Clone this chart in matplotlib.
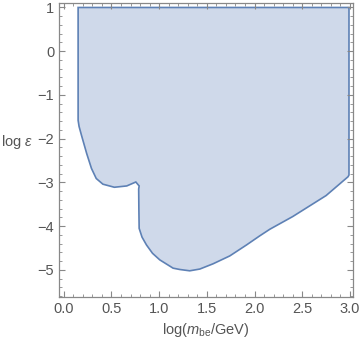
import matplotlib
matplotlib.use("Agg")
import matplotlib.pyplot as plt
from matplotlib.ticker import MultipleLocator, FormatStrFormatter, FuncFormatter

plt.rcParams["font.family"] = ["Liberation Sans", "DejaVu Sans"]
plt.rcParams["mathtext.fontset"] = "custom"
plt.rcParams["mathtext.rm"] = "Liberation Sans"
plt.rcParams["mathtext.it"] = "Liberation Sans:italic"

# boundary of the allowed region (log m, log eps), going clockwise from top-left
x_edge = [0.15, 2.99, 2.99, 2.98, 2.75, 2.40, 2.16, 2.055, 1.915, 1.74, 1.565, 1.426, 1.32,
          1.216, 1.146, 1.006, 0.93, 0.867, 0.82, 0.79, 0.787, 0.785, 0.79, 0.755, 0.66,
          0.53, 0.41, 0.34, 0.29, 0.24, 0.185, 0.16, 0.15, 0.15]
y_edge = [1.0, 1.0, -2.83, -2.87, -3.30, -3.78, -4.07, -4.22, -4.43, -4.68, -4.86, -4.98, -5.02,
          -4.99, -4.96, -4.77, -4.62, -4.43, -4.25, -4.05, -3.6, -3.15, -3.08, -2.99, -3.08,
          -3.11, -3.04, -2.91, -2.68, -2.34, -1.92, -1.72, -1.58, 1.0]

line_col = "#5E81B5"
fill_col = "#CFD9EA"
axis_col = "#888888"
text_col = "#555555"

fig = plt.figure(figsize=(3.6, 3.45), dpi=100)
ax = fig.add_axes([0.164, 0.139, 0.816, 0.852])

ax.fill(x_edge, y_edge, facecolor=fill_col, edgecolor=line_col, linewidth=1.2)

ax.set_xlim(-0.05, 3.03)
ax.set_ylim(-5.62, 1.1)

ax.xaxis.set_major_locator(MultipleLocator(0.5))
ax.xaxis.set_minor_locator(MultipleLocator(0.1))
ax.yaxis.set_major_locator(MultipleLocator(1))
ax.yaxis.set_minor_locator(MultipleLocator(0.2))
ax.xaxis.set_major_formatter(FormatStrFormatter("%.1f"))
ax.yaxis.set_major_formatter(FuncFormatter(lambda v, p: f"{int(round(v))}".replace("-", "\u2212")))

ax.tick_params(which="both", direction="in", top=True, right=True, color=axis_col,
               labelcolor=text_col, labelsize=10.5)
ax.tick_params(which="major", length=4.5, width=0.8)
ax.tick_params(which="minor", length=2.5, width=0.6)
for s in ax.spines.values():
    s.set_color(axis_col)
    s.set_linewidth(0.9)

ax.set_xlabel(r"log($\it{m}_{\rm be}$/GeV)", color=text_col, fontsize=10.5)
fig.text(0.003, 0.588, r"log $\epsilon$", color=text_col, fontsize=10.5, ha="left", va="center")

fig.savefig("out.png", dpi=100)
